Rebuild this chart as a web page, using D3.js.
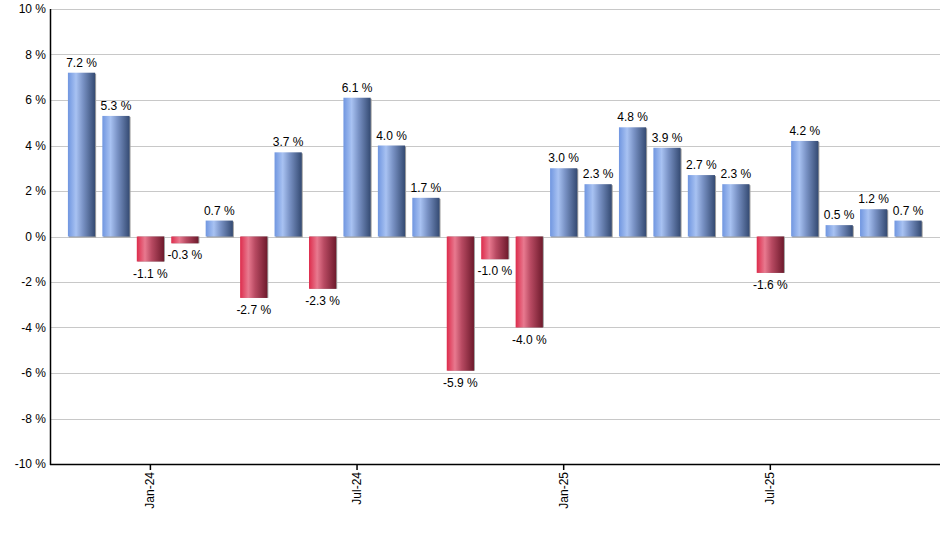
<!DOCTYPE html>
<html>
<head>
<meta charset="utf-8">
<script src="https://cdn.jsdelivr.net/npm/d3@7"></script>
<style>
body { margin: 0; background: #fff; }
text { font-family: "Liberation Sans", Arial, sans-serif; fill: #000; }
</style>
</head>
<body>
<script>
// monthly returns, Nov-23 .. Nov-25
var months = ["Nov-23","Dec-23","Jan-24","Feb-24","Mar-24","Apr-24","May-24","Jun-24","Jul-24","Aug-24","Sep-24","Oct-24","Nov-24","Dec-24","Jan-25","Feb-25","Mar-25","Apr-25","May-25","Jun-25","Jul-25","Aug-25","Sep-25","Oct-25","Nov-25"];
var returns = [7.2, 5.3, -1.1, -0.3, 0.7, -2.7, 3.7, -2.3, 6.1, 4.0, 1.7, -5.9, -1.0, -4.0, 3.0, 2.3, 4.8, 3.9, 2.7, 2.3, -1.6, 4.2, 0.5, 1.2, 0.7];
var tickMonths = ["Jan-24","Jul-24","Jan-25","Jul-25"];
var yTicks = [-10, -8, -6, -4, -2, 0, 2, 4, 6, 8, 10];

var svg = d3.select("body").append("svg").attr("width",940).attr("height",550);

var plotLeft = 50, plotRight = 940, plotTop = 9, plotBottom = 464;

var x = d3.scaleBand().domain(months).range([64.3, 925.3]).paddingInner(0.21).paddingOuter(0.105);
var y = d3.scaleLinear().domain([-10, 10]).range([plotBottom, plotTop]);

var defs = svg.append("defs");
function grad(id, stops) {
  var g = defs.append("linearGradient").attr("id", id).attr("x1","0").attr("x2","1").attr("y1","0").attr("y2","0");
  stops.forEach(function(s){ g.append("stop").attr("offset", s[0]).attr("stop-color", s[1]); });
}
grad("gPos", [[0,"#7096e0"],[0.3,"#a8c2f2"],[0.55,"#7a93c6"],[1,"#344a72"]]);
grad("gNeg", [[0,"#dd2c4c"],[0.3,"#e8798f"],[0.55,"#b84a62"],[1,"#6e1a2c"]]);

// grid
svg.append("g").selectAll("line").data(yTicks).join("line")
    .attr("x1", plotLeft).attr("x2", plotRight)
    .attr("y1", function(d){ return Math.round(y(d)) + 0.5; })
    .attr("y2", function(d){ return Math.round(y(d)) + 0.5; })
    .attr("stroke", "#c8c8c8").attr("stroke-width", 1);

// y labels
svg.append("g").selectAll("text").data(yTicks).join("text")
    .attr("x", 46).attr("y", function(d){ return y(d) + 4; })
    .attr("text-anchor","end").attr("font-size", 12)
    .text(function(d){ return d + " %"; });

// bars
var bars = svg.append("g");
bars.selectAll("rect.shadow").data(returns).join("rect")
    .attr("class","shadow")
    .attr("x", function(d,i){ return x(months[i]) + 1; })
    .attr("y", function(d){ return Math.min(y(d), y(0)) + (d > 0 ? 1 : 0); })
    .attr("width", x.bandwidth())
    .attr("height", function(d){ return Math.abs(y(d) - y(0)); })
    .attr("fill", "#a0a0a0");
bars.selectAll("rect.bar").data(returns).join("rect")
    .attr("class","bar")
    .attr("x", function(d,i){ return x(months[i]); })
    .attr("y", function(d){ return Math.min(y(d), y(0)); })
    .attr("width", x.bandwidth())
    .attr("height", function(d){ return Math.abs(y(d) - y(0)); })
    .attr("fill", function(d){ return d >= 0 ? "url(#gPos)" : "url(#gNeg)"; });

// value labels
svg.append("g").selectAll("text").data(returns).join("text")
    .attr("x", function(d,i){ return x(months[i]) + x.bandwidth()/2; })
    .attr("y", function(d){ return d >= 0 ? y(d) - 6 : y(d) + 16; })
    .attr("text-anchor","middle").attr("font-size", 12)
    .text(function(d){ return d.toFixed(1) + " %"; });

// axes lines
svg.append("line").attr("x1", plotLeft + 0.5).attr("x2", plotLeft + 0.5).attr("y1", plotTop).attr("y2", plotBottom + 1)
    .attr("stroke","#000").attr("stroke-width", 1.5);
svg.append("line").attr("x1", plotLeft).attr("x2", plotRight).attr("y1", plotBottom + 0.5).attr("y2", plotBottom + 0.5)
    .attr("stroke","#000").attr("stroke-width", 1.5);

// x ticks
var xt = svg.append("g").selectAll("g").data(tickMonths).join("g")
    .attr("transform", function(d){ return "translate(" + (x(d) + x.bandwidth()/2) + "," + plotBottom + ")"; });
xt.append("line").attr("y1", 0).attr("y2", 6).attr("stroke","#000").attr("stroke-width",1.5);
xt.append("text").attr("transform","rotate(-90)")
    .attr("x", -8).attr("y", 4).attr("text-anchor","end").attr("font-size", 12)
    .text(function(d){ return d; });
</script>
</body>
</html>
